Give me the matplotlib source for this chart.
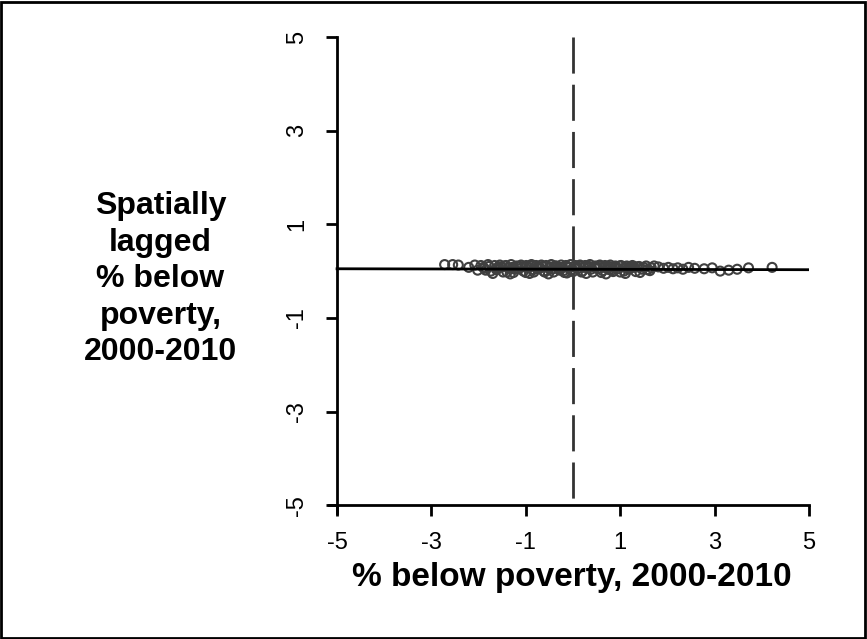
import matplotlib
matplotlib.use('Agg')
import matplotlib.pyplot as plt
from matplotlib.patches import Rectangle

plt.rcParams['font.family'] = ['Liberation Sans', 'DejaVu Sans']

# change in % below poverty (x) and its spatial lag (y)
poverty_change = [
    -2.72, -2.55, -2.43, -2.21, -2.08, -2.02, -1.95, -1.88, -1.80, -1.74,
    -1.66, -1.60, -1.55, -1.48, -1.42, -1.37, -1.31, -1.26, -1.20, -1.15,
    -1.10, -1.05, -0.99, -0.94, -0.88, -0.83, -0.78, -0.72, -0.67, -0.62,
    -0.57, -0.51, -0.46, -0.41, -0.36, -0.30, -0.25, -0.20, -0.15, -0.10,
    -0.05, 0.00, 0.05, 0.10, 0.15, 0.20, 0.26, 0.31, 0.36, 0.42,
    0.47, 0.52, 0.57, 0.63, 0.68, 0.74, 0.79, 0.85, 0.90, 0.96,
    1.02, 1.08, 1.14, 1.20, 1.26, 1.33, 1.40, 1.47, 1.55, 1.63,
    1.72, 1.81, 1.92, 2.02, 2.12, 2.22, 2.33, 2.45, 2.58, 2.78,
    2.95, 3.12, 3.30, 3.48, 3.72, 4.22,
    -1.70, -1.52, -1.33, -1.12, -0.92, -0.71, -0.52, -0.33, -0.13, 0.08,
    0.28, 0.49, 0.70, 0.91, 1.11, 1.30, -1.62, -1.23, -0.84, -0.44,
    -0.03, 0.38, 0.77, 1.18, 1.58,
    -1.90, -1.78, -1.58, -1.45, -1.28, -1.17, -1.02, -0.90, -0.75, -0.64,
    -0.49, -0.38, -0.22, -0.12, 0.02, 0.13, 0.23, 0.34, 0.45, 0.55,
    0.66, 0.76, 0.88, 0.99, 1.10, 1.22, 1.36, 1.50, 1.66, -1.40,
    -1.00, -0.60, -0.18, 0.18, 0.60, 1.00, 1.42, -1.85, 0.82, -0.28,
]
lagged_change = [
    0.14, 0.14, 0.13, 0.08, 0.13, 0.02, 0.12, 0.06, 0.14, 0.00,
    0.12, 0.05, 0.13, -0.02, 0.12, 0.07, 0.14, -0.03, 0.11, 0.05,
    0.13, 0.00, 0.12, 0.07, 0.14, -0.02, 0.12, 0.05, 0.13, 0.00,
    0.12, 0.06, 0.14, -0.02, 0.11, 0.05, 0.13, 0.01, 0.12, 0.07,
    0.14, -0.01, 0.12, 0.05, 0.13, 0.00, 0.12, 0.07, 0.14, -0.02,
    0.11, 0.05, 0.13, 0.01, 0.12, 0.06, 0.13, -0.01, 0.11, 0.05,
    0.12, 0.00, 0.11, 0.06, 0.12, -0.01, 0.10, 0.04, 0.11, 0.01,
    0.11, 0.09, 0.06, 0.08, 0.05, 0.07, 0.04, 0.08, 0.06, 0.05,
    0.07, 0.00, 0.02, 0.04, 0.07, 0.08,
    -0.05, 0.09, -0.06, 0.10, -0.05, 0.09, -0.06, 0.10, -0.04, 0.09,
    -0.05, 0.10, -0.06, 0.09, -0.05, 0.08, 0.03, 0.04, 0.03, 0.04,
    0.03, 0.04, 0.03, 0.04, 0.03,
    0.08, 0.10, 0.09, 0.11, 0.08, 0.10, 0.09, 0.11, 0.08, 0.10,
    0.09, 0.11, 0.08, 0.10, 0.09, 0.11, 0.08, 0.10, 0.09, 0.11,
    0.08, 0.10, 0.09, 0.11, 0.08, 0.10, 0.09, 0.08, 0.07, -0.02,
    -0.03, -0.02, -0.03, -0.02, -0.03, -0.02, -0.03, 0.02, 0.02, 0.02,
]

# near-flat fitted line (Moran scatter slope)
fit_intercept = 0.04
fit_slope = -0.002

ticks = [-5, -3, -1, 1, 3, 5]
x_label = '% below poverty, 2000-2010'
y_label = 'Spatially\nlagged\n% below\npoverty,\n2000-2010'

fig = plt.figure(figsize=(8.67, 6.39), dpi=100)
ax = fig.add_axes([0.3795, 0.197, 0.5535, 0.745])

ax.scatter(poverty_change, lagged_change, s=42, facecolors='none',
           edgecolors='#404040', linewidths=1.5, zorder=3)
line_x = [-5, 5]
ax.plot(line_x, [fit_intercept + fit_slope * v for v in line_x],
        color='black', lw=2, zorder=4)
# drawn top-down so the dash pattern starts at the top
ax.plot([0, 0], [5, -5], color='#333333', lw=2, dashes=(13, 4), zorder=2)

ax.set_xlim(-5.17, 5.0)
ax.set_ylim(-5.17, 5.0)
for side in ['top', 'right']:
    ax.spines[side].set_visible(False)
ax.spines['left'].set_position(('data', -5))
ax.spines['bottom'].set_position(('data', -5))
for side in ['left', 'bottom']:
    ax.spines[side].set_linewidth(2)
ax.set_xticks(ticks)
ax.set_yticks(ticks)
ax.set_xticklabels([str(t) for t in ticks])
ax.set_yticklabels([str(t) for t in ticks], rotation=90, va='center')
ax.tick_params(length=8, width=2, labelsize=17)
ax.tick_params(axis='x', pad=11)
ax.tick_params(axis='y', pad=13)

fig.text(0.66, 0.097, x_label, ha='center', va='center',
         fontsize=24, fontweight='bold')
fig.text(0.185, 0.563, y_label, ha='center', va='center',
         fontsize=23, fontweight='bold', linespacing=1.28)

fig.add_artist(Rectangle((0.001, 0.001), 0.997, 0.996, transform=fig.transFigure,
                         fill=False, edgecolor='black', lw=2))

fig.savefig('out.png', dpi=100)
